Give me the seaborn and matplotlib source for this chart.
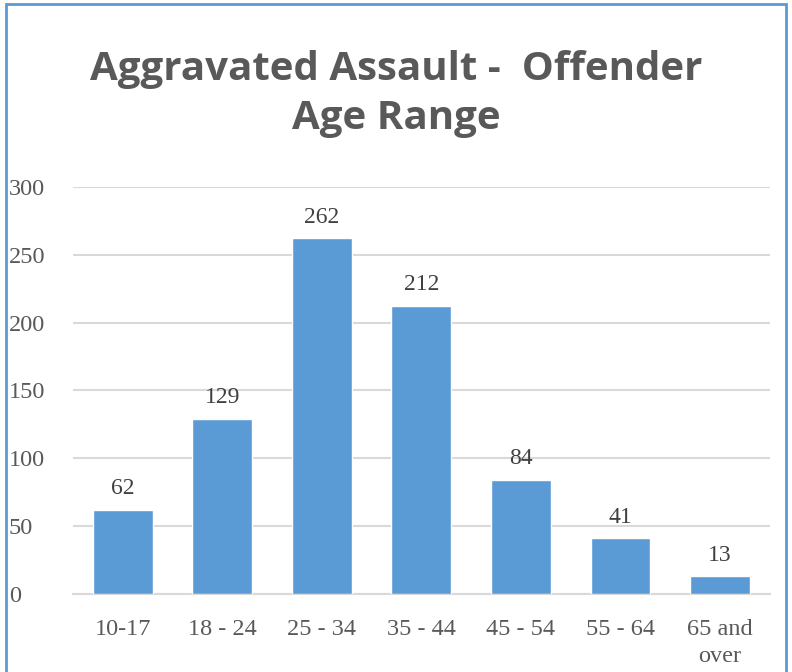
import matplotlib
matplotlib.use("Agg")
import matplotlib.pyplot as plt
import matplotlib.patches as mpatches
import seaborn as sns
import pandas as pd

age_ranges = ["10-17", "18 - 24", "25 - 34", "35 - 44", "45 - 54", "55 - 64", "65 and\nover"]
offenders = [62, 129, 262, 212, 84, 41, 13]

df = pd.DataFrame({"age": age_ranges, "count": offenders})

sns.set_theme(style="white")
plt.rcParams["font.family"] = ["Liberation Serif", "DejaVu Serif"]

bar_color = "#5B9BD5"
text_color = "#595959"

fig = plt.figure(figsize=(7.92, 6.72), dpi=100)
ax = fig.add_axes([0.092, 0.116, 0.880, 0.606])

sns.barplot(data=df, x="age", y="count", color=bar_color, width=0.6,
            saturation=1, ax=ax, zorder=3)

for i, v in enumerate(offenders):
    ax.text(i, v + 8, str(v), ha="center", va="bottom",
            fontsize=17, color="#404040")

ax.set_ylim(0, 300)
ax.set_xlim(-0.5, len(age_ranges) - 0.5)
ax.set_yticks(range(0, 301, 50))
ax.yaxis.grid(True, color="#D9D9D9", linewidth=1.5, zorder=0)
ax.set_xlabel("")
ax.set_ylabel("")
for s in ["top", "right", "left"]:
    ax.spines[s].set_visible(False)
ax.spines["bottom"].set_color("#D9D9D9")
ax.spines["bottom"].set_linewidth(1.5)
ax.tick_params(axis="both", length=0, labelsize=17.5, labelcolor=text_color)
ax.tick_params(axis="y", pad=46)
ax.tick_params(axis="x", pad=18)
for lbl in ax.get_yticklabels():
    lbl.set_horizontalalignment("left")
for lbl in ax.get_xticklabels():
    lbl.set_linespacing(1.4)

fig.text(0.5, 0.860, "Aggravated Assault -  Offender\nAge Range", ha="center",
         va="center", fontsize=29, fontweight="bold", color=text_color,
         family=["Open Sans", "DejaVu Sans"], linespacing=1.35)

border = mpatches.Rectangle((0.007, -0.05), 0.986, 1.044, transform=fig.transFigure,
                            fill=False, edgecolor="#5B9BD5", linewidth=2)
fig.patches.append(border)

fig.savefig("out.png", dpi=100)
